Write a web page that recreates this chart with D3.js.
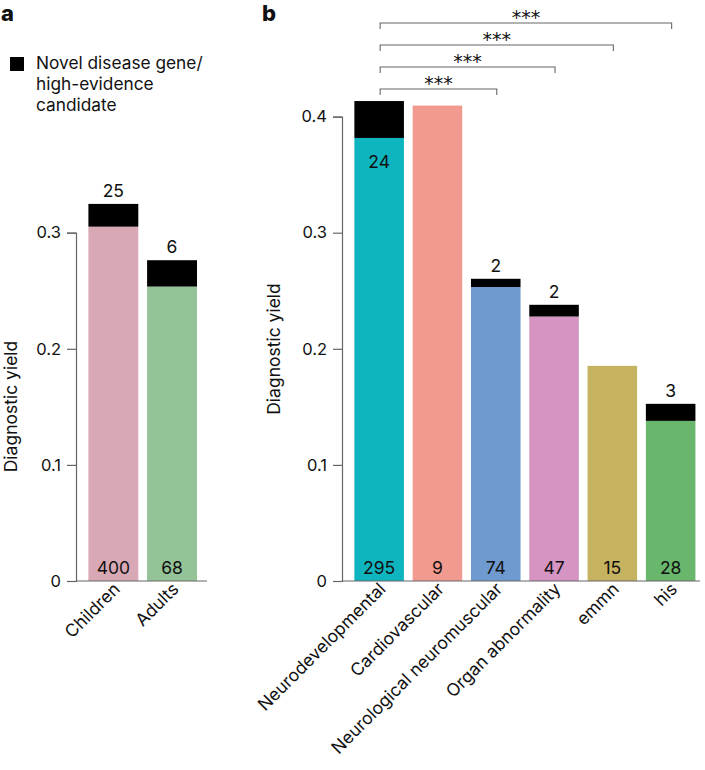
<!DOCTYPE html>
<html><head><meta charset="utf-8">
<script src="https://cdn.jsdelivr.net/npm/d3@7"></script>
<style>
body{margin:0;background:#fff;}
text{font-family:Inter,"Noto Sans",sans-serif;fill:#111;}
</style></head>
<body><svg id="chart" width="705" height="770"></svg>
<script>
// ---- data ----
const groupsA = ["Children", "Adults"];
const baseA = [0.3052, 0.2536];
const totalA = [0.3248, 0.2763];
const countsA = [400, 68];
const novelA = [25, 6];
const colorsA = ["#D8A9B5", "#95C398"];

const groupsB = ["Neurodevelopmental", "Cardiovascular", "Neurological neuromuscular", "Organ abnormality", "emmn", "his"];
const baseB = [0.3816, 0.4095, 0.2532, 0.2278, 0.1853, 0.1379];
const totalB = [0.4134, 0.4095, 0.2603, 0.2379, 0.1853, 0.1526];
const countsB = [295, 9, 74, 47, 15, 28];
const novelB = [24, 0, 2, 2, 0, 3];
const colorsB = ["#0EB4BE", "#F29A8F", "#6E9AD0", "#D694C2", "#C5B35F", "#68B76C"];

const ticksA = [0, 0.1, 0.2, 0.3];
const ticksB = [0, 0.1, 0.2, 0.3, 0.4];
const tickLabels = {0: "0", 0.1: "0.1", 0.2: "0.2", 0.3: "0.3", 0.4: "0.4"};

const comparisons = [["Neurodevelopmental", "Neurological neuromuscular"], ["Neurodevelopmental", "Organ abnormality"], ["Neurodevelopmental", "emmn"], ["Neurodevelopmental", "his"]];
const compLabels = ["***", "***", "***", "***"];

const legendLines = ["Novel disease gene/", "high-evidence", "candidate"];

// ---- layout ----
const svg = d3.select("#chart");
const y0px = 581, y04px = 116.6;
const y = d3.scaleLinear().domain([0, 0.4]).range([y0px, y04px]);
const axisColor = "#666";

function panel(opts) {
  const g = svg.append("g");
  const x = d3.scaleBand().domain(opts.groups).range(opts.xr).paddingInner(0.15).paddingOuter(0.075);
  // y axis
  const ys = y.copy().domain([0, d3.max(opts.ticks)]).range([y(0), y(d3.max(opts.ticks))]);
  const ax = g.append("g").attr("transform", `translate(${opts.axisX},0)`)
    .call(d3.axisLeft(ys).tickValues(opts.ticks).tickFormat(d => tickLabels[d]).tickSizeOuter(0).tickSize(9).tickPadding(6));
  ax.select(".domain").attr("stroke", axisColor).attr("stroke-width", 1.2);
  ax.selectAll(".tick line").attr("stroke", axisColor).attr("stroke-width", 1.2);
  ax.selectAll(".tick text").attr("font-size", 16.5).attr("fill", "#222").style("font-family", "Inter, sans-serif");
  // y title
  g.append("text").attr("transform", `translate(${opts.titleX},${opts.titleY}) rotate(-90)`)
    .attr("text-anchor", "middle").attr("font-size", 17.5).text("Diagnostic yield");
  // bars base
  g.selectAll("rect.base").data(opts.groups).join("rect")
    .attr("x", d => x(d)).attr("width", x.bandwidth())
    .attr("y", (d, i) => y(opts.base[i])).attr("height", (d, i) => y(0) - y(opts.base[i]))
    .attr("fill", (d, i) => opts.colors[i]);
  // novel segment
  g.selectAll("rect.novel").data(opts.groups).join("rect")
    .attr("x", d => x(d)).attr("width", x.bandwidth())
    .attr("y", (d, i) => y(opts.total[i])).attr("height", (d, i) => Math.max(0, y(opts.base[i]) - y(opts.total[i])))
    .attr("fill", "#000");
  // x axis line
  g.append("line").attr("x1", opts.axisX).attr("x2", opts.xAxisEnd).attr("y1", y(0)).attr("y2", y(0))
    .attr("stroke", axisColor).attr("stroke-width", 1.2);
  // counts
  g.selectAll("text.count").data(opts.groups).join("text")
    .attr("x", d => x(d) + x.bandwidth() / 2).attr("y", y(0) - 7)
    .attr("text-anchor", "middle").attr("font-size", 17.5).text((d, i) => opts.counts[i]);
  // novel labels
  g.selectAll("text.nov").data(opts.groups.filter((d, i) => opts.novel[i] > 0)).join("text")
    .attr("x", d => x(d) + x.bandwidth() / 2)
    .attr("y", d => {
      const i = opts.groups.indexOf(d);
      return (opts.insideFirst && i === 0) ? y(opts.base[i]) + 30 : y(opts.total[i]) - 7;
    })
    .attr("text-anchor", "middle").attr("font-size", 17.5)
    .text(d => opts.novel[opts.groups.indexOf(d)]);
  // x labels
  g.selectAll("text.xl").data(opts.groups).join("text")
    .attr("transform", d => `translate(${x(d) + x.bandwidth() / 2 - 1},${y(0) + 0.5}) rotate(-45)`)
    .attr("text-anchor", "end").attr("dy", "0.7em").attr("font-size", 17.5).text(d => d);
  return x;
}

panel({groups: groupsA, base: baseA, total: totalA, counts: countsA, novel: novelA, colors: colorsA,
  xr: [84, 84 + 2 * 58.7], axisX: 76, xAxisEnd: 207, ticks: ticksA, titleX: 16.5, titleY: 406.5, insideFirst: false});

const xB = panel({groups: groupsB, base: baseB, total: totalB, counts: countsB, novel: novelB, colors: colorsB,
  xr: [350, 350 + 6 * 58.3], axisX: 342, xAxisEnd: 700, ticks: ticksB, titleX: 280, titleY: 349, insideFirst: true});

// significance brackets
const bracketY = [89, 67, 45, 23];
const cx = d => xB(d) + xB.bandwidth() / 2 + 1;
const bg = svg.append("g");
comparisons.forEach((c, i) => {
  const x1 = cx(c[0]), x2 = cx(c[1]), by = bracketY[i];
  bg.append("path").attr("d", `M${x1},${by + 6}V${by}H${x2}V${by + 6}`)
    .attr("fill", "none").attr("stroke", axisColor).attr("stroke-width", 1.1);
  bg.append("text").attr("x", (x1 + x2) / 2).attr("y", by + 0.5).attr("text-anchor", "middle")
    .attr("font-size", 19).style("font-family", "'DejaVu Sans', sans-serif").text(compLabels[i]);
});

// legend
svg.append("rect").attr("x", 10).attr("y", 57).attr("width", 14).attr("height", 14).attr("fill", "#000");
svg.append("g").selectAll("text").data(legendLines).join("text")
  .attr("x", 36).attr("y", (d, i) => 69 + i * 21).attr("font-size", 17.3).text(d => d);

// panel letters
svg.append("text").attr("x", 1).attr("y", 21).attr("font-size", 22).attr("font-weight", 800).text("a");
svg.append("text").attr("x", 262).attr("y", 21).attr("font-size", 22).attr("font-weight", 800).text("b");
</script></body></html>
